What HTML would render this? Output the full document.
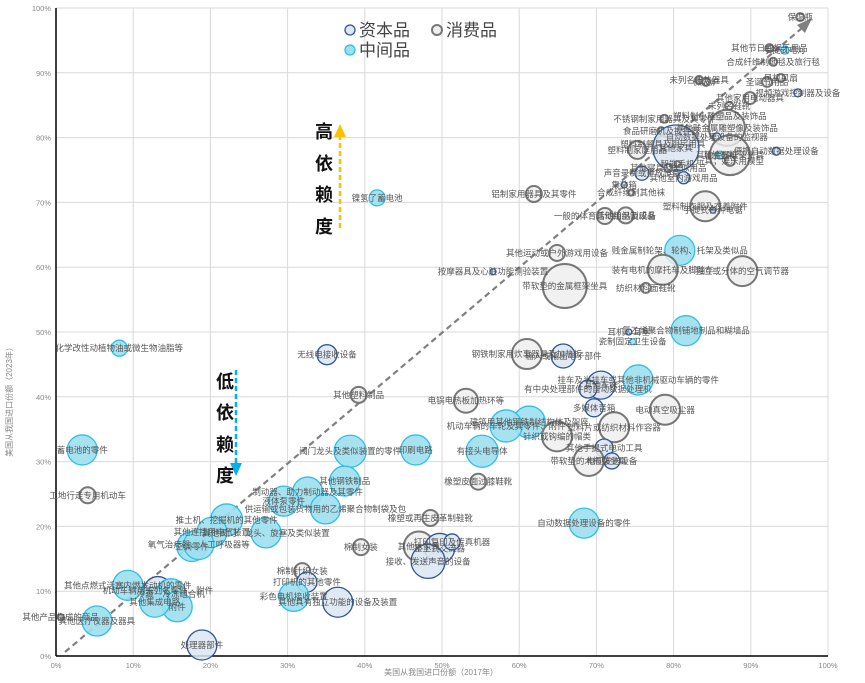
<!DOCTYPE html>
<html><head><meta charset="utf-8">
<style>
html,body{margin:0;padding:0;background:#fff;}
svg{display:block;font-family:"Liberation Sans","Noto Sans CJK SC",sans-serif;}
.lbl{font-size:8.5px;fill:#555;}
.tick{font-size:7.5px;fill:#888;}
</style></head>
<body>
<svg id="chart" width="865" height="683" viewBox="0 0 865 683">
<g id="grid"></g>
<g id="axes"></g>
<line x1="65" y1="652" x2="808" y2="23" stroke="#808080" stroke-width="2.2" stroke-dasharray="6,4"/>
<polygon points="812,18 797,25 805,33" fill="#808080"/>
<g id="bubbles"></g>
<g id="labels"></g>
<g>
<line x1="340" y1="228" x2="340" y2="135" stroke="#ffc000" stroke-width="2.5" stroke-dasharray="5,3"/>
<polygon points="334,137 346,137 340,124" fill="#ffc000"/>
<text x="324" y="138" font-size="18" font-weight="bold" fill="#111" text-anchor="middle">高</text>
<text x="324" y="170" font-size="18" font-weight="bold" fill="#111" text-anchor="middle">依</text>
<text x="324" y="201" font-size="18" font-weight="bold" fill="#111" text-anchor="middle">赖</text>
<text x="324" y="233" font-size="18" font-weight="bold" fill="#111" text-anchor="middle">度</text>
</g>
<g>
<line x1="236" y1="370" x2="236" y2="465" stroke="#00b0f0" stroke-width="2.5" stroke-dasharray="5,3"/>
<polygon points="230,463 242,463 236,476" fill="#00b0f0"/>
<text x="225" y="388" font-size="18" font-weight="bold" fill="#111" text-anchor="middle">低</text>
<text x="225" y="419" font-size="18" font-weight="bold" fill="#111" text-anchor="middle">依</text>
<text x="225" y="451" font-size="18" font-weight="bold" fill="#111" text-anchor="middle">赖</text>
<text x="225" y="482" font-size="18" font-weight="bold" fill="#111" text-anchor="middle">度</text>
</g>
<g>
<circle cx="350" cy="30" r="5" fill="#dce6f2" stroke="#2f5597" stroke-width="1.3"/>
<text x="359" y="36" font-size="17" fill="#444">资本品</text>
<circle cx="437" cy="30" r="5" fill="#eee" stroke="#777" stroke-width="2"/>
<text x="446" y="36" font-size="17" fill="#444">消费品</text>
<circle cx="350" cy="50" r="5" fill="#9ddff0" stroke="#2cc0e8" stroke-width="1.3"/>
<text x="359" y="56" font-size="17" fill="#444">中间品</text>
</g>
<text x="441" y="675" font-size="8" fill="#888" text-anchor="middle">美国从我国进口份额（2017年）</text>
<text x="0" y="0" font-size="8" fill="#888" text-anchor="middle" transform="translate(12,400) rotate(-90)">美国从我国进口份额（2023年）</text>
</svg>
<script>
const names=["保温瓶","其他节日或娱乐用品","手提式电灯","合成纤维制地毯及旅行毯","未列名电热器具","微波炉","风机风扇","圣诞节用品","视频游戏控制器及设备","其他家用电动器具","未列名鞋靴","不锈钢制家用器具及其零件","塑料制小雕塑品及装饰品","其他贱金属雕塑像及装饰品","食品研磨机及搅拌器","自动数据处理设备的监视器","塑料制餐具及厨房用具","其他家具","其他金属框架坐具","便携自动数据处理设备","其他塑料","玩具；娱乐用模型","塑料制家庭用品","智能手机","声音录制或重放设备","其他室内游戏用品","集装箱","合成纤维制其他袜","塑料制衣服及衣着附件","手提式各种电锯","铝制家用器具及其零件","一般的体育活动用品及设备","其他纺织制成品","其他寝具及类似用品","贱金属制轮架、轮构、托架及类似品","其他运动或户外游戏用设备","按摩器具及心脏功能测验装置","带软垫的金属框架坐具","装有电机的摩托车及脚踏车","纺织材料面鞋靴","独立或分体的空气调节器","耳机、耳塞","瓷制固定卫生设备","氯乙烯聚合物制铺地制品和糊墙品","化学改性动植物油或微生物油脂等","无线电接收设备","钢铁制家用炊事器具及加热板","输入或输出电子部件","挂车及半挂车或其他非机械驱动车辆的零件","其他车床","有中央处理部件的自动数据处理机","多媒体音箱","电动真空吸尘器","其他塑料制品","电锅电热板加热环等","建筑用其他钢铁制结构体及架座","机动车辆的车轮及其零件、附件","针织或钩编的帽类","塑料片或纺织材料作容器","其他手提式电动工具","电视发送设备","带软垫的木框架坐具","有接头电导体","印刷电路","蓄电池的零件","阀门龙头及类似装置的零件","橡塑皮面过膝鞋靴","其他钢铁制品","制动器、助力制动器及其零件","液体泵零件","供运输或包装货物用的乙烯聚合物制袋及包","工地行走专用机动车","推土机、挖掘机的其他零件","其他连接用电气装置","其他阀门、龙头、旋塞及类似装置","空调零件","氧气治疗器、人工呼吸器等","橡塑或再生皮革制鞋靴","其他木家具","整上式交流器","接收、发送声音的设备","打印复印及传真机器","棉制女装","自动数据处理设备的零件","其他点燃式活塞内燃发动机的零件","机动车辆用未列名零件、附件","冷藏－冷冻组合机","附件","其他集成电路","其他医疗仪器及器具","处理器部件","其他产品构成的商品","棉制针织女装","打印机的其他零件","彩色电机接收装置","其他具有独立功能的设备及装置","镍氢了蓄电池"];
const xVals=[96.4,92.4,94.4,92.9,83.3,84.2,93.9,92.1,96.1,89.9,87.2,78.8,86.0,86.9,78.4,85.6,78.6,80.3,87.3,93.3,86.0,87.3,75.3,80.5,75.9,81.3,73.6,74.5,84.1,85.1,61.9,71.1,73.8,79.3,80.8,64.9,56.6,65.9,78.6,76.4,88.9,74.2,74.7,81.6,8.2,35.1,61.0,65.7,75.4,70.6,68.9,69.7,78.9,39.2,53.1,61.3,58.3,64.9,72.3,71.0,72.0,69.0,55.2,46.6,3.4,38.1,54.7,37.4,32.6,29.5,34.9,4.1,22.1,20.2,27.2,17.6,18.5,48.5,47.0,49.7,48.2,51.3,39.5,68.4,9.3,13.2,14.9,15.7,12.8,5.3,18.9,0.6,31.9,32.5,30.8,36.5,41.6];
const yVals=[98.6,93.8,93.5,91.7,88.9,88.6,89.2,88.6,86.9,86.1,84.9,82.9,83.3,81.5,81.0,80.1,79.0,78.4,77.3,77.9,77.3,76.4,78.1,75.9,74.5,73.8,72.7,71.5,69.4,68.8,71.3,67.9,68.0,75.3,62.6,62.2,59.3,57.1,59.6,56.8,59.4,50.0,48.5,50.2,47.5,46.5,46.6,46.3,42.6,41.8,41.2,38.3,38.0,40.3,39.4,36.1,35.5,33.9,35.3,32.1,30.1,30.1,31.6,31.8,31.8,31.6,26.9,27.0,25.3,23.9,22.7,24.8,21.0,19.1,19.0,16.9,17.2,21.3,16.9,16.6,14.6,17.6,16.8,20.5,10.9,10.1,9.6,7.6,8.3,5.4,1.7,6.0,13.1,11.4,9.2,8.3,70.7];
const sizes=[4,4,4,4,4,4,4,5,4,6,4,4,4,18,4,4,8,23,20,4,4,5,9,3,7,6,3,3,15,3,8,8,8,4,15,8,3,22,15,5,15,3,3,15,8,10,15,12,15,14,9,9,15,8,12,16,16,15,15,9,8,15,16,15,15,16,8,15,15,15,15,8,16,15,15,15,15,8,15,15,17,8,8,15,15,14,15,15,15,15,15,3,8,10,15,15,8];
const types=["con","con","mid","con","con","con","con","con","cap","con","con","con","con","con","con","cap","con","cap","con","cap","mid","con","con","con","cap","cap","cap","con","con","cap","con","con","con","con","mid","con","cap","con","con","con","con","cap","mid","mid","mid","cap","con","cap","mid","cap","cap","cap","con","con","con","mid","mid","con","con","cap","cap","con","mid","mid","mid","mid","con","mid","mid","mid","mid","con","mid","mid","mid","mid","mid","con","con","cap","cap","cap","con","mid","mid","cap","mid","mid","mid","mid","cap","con","con","cap","mid","cap","mid"];
const tickVals=[0,10,20,30,40,50,60,70,80,90,100];
const tickLabels=["0%","10%","20%","30%","40%","50%","60%","70%","80%","90%","100%"];
const X0=56,X1=828,Y0=656,Y1=8;
function xs(v){return X0+(X1-X0)*v/100;}
function ys(v){return Y0-(Y0-Y1)*v/100;}
const NS="http://www.w3.org/2000/svg";
function mk(tag,attrs,parent){const e=document.createElementNS(NS,tag);for(const k in attrs)e.setAttribute(k,attrs[k]);parent.appendChild(e);return e;}
const grid=document.getElementById('grid'),axes=document.getElementById('axes');
tickVals.forEach((t,i)=>{
 const gv=mk('line',{x1:xs(t),x2:xs(t),y1:Y1,y2:Y0,stroke:'#d9d9d9','stroke-width':1},grid);
 
 
 const gh=mk('line',{x1:X0,x2:X1,y1:ys(t),y2:ys(t),stroke:'#d9d9d9','stroke-width':1},grid);
 
 
 const tx=mk('text',{x:xs(t),y:Y0+12,'text-anchor':'middle',class:'tick'},axes);tx.textContent=tickLabels[i];
 
 
 const ty=mk('text',{x:X0-5,y:ys(t)+3,'text-anchor':'end',class:'tick'},axes);ty.textContent=tickLabels[i];
 
 
});
const ax=mk('line',{x1:X0,x2:X1,y1:Y0,y2:Y0,stroke:'#000','stroke-width':1.5},axes);


const ay=mk('line',{x1:X0,x2:X0,y1:Y1,y2:Y0,stroke:'#000','stroke-width':1.5},axes);


const styles={cap:{fill:'#dce6f2',stroke:'#2f5597',sw:1.3,op:0.85},mid:{fill:'#9ddff0',stroke:'#2cc0e8',sw:1.3,op:0.9},con:{fill:'#eeeeee',stroke:'#777',sw:2,op:0.8}};
const bg=document.getElementById('bubbles'),lg=document.getElementById('labels');
names.forEach((n,i)=>{
 const s=styles[types[i]];
 const c=mk('circle',{cx:xs(xVals[i]),cy:ys(yVals[i]),r:sizes[i],fill:s.fill,'fill-opacity':s.op,stroke:s.stroke,'stroke-width':s.sw},bg);
 
 
 const t=mk('text',{x:xs(xVals[i]),y:ys(yVals[i])+3,'text-anchor':'middle',class:'lbl'},lg);
 t.textContent=n;
 
 
});
</script>
</body></html>
